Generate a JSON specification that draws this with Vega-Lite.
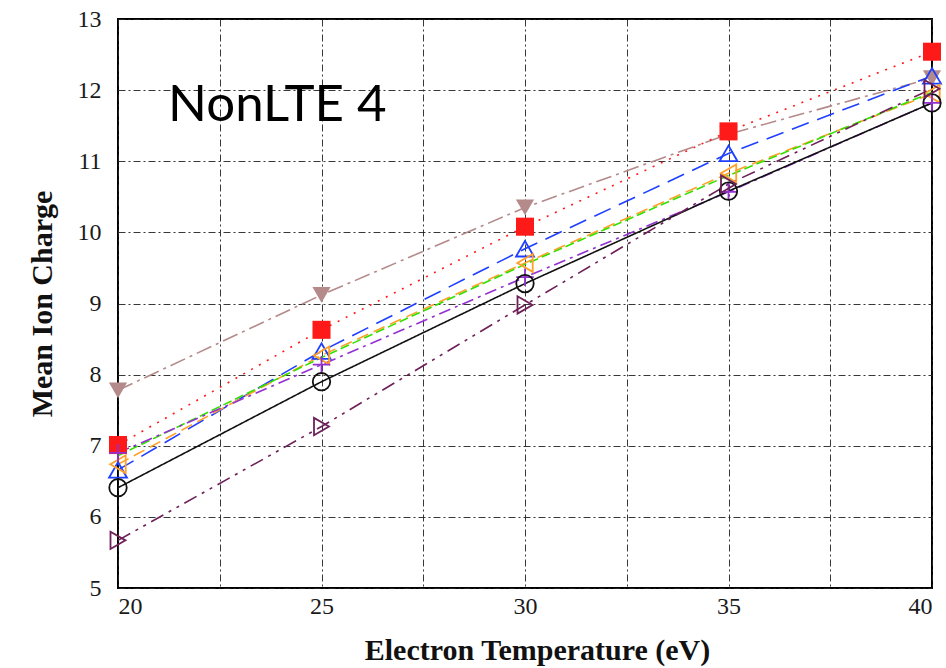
{
  "$schema": "https://vega.github.io/schema/vega-lite/v6.json",
  "width": 814,
  "height": 569,
  "autosize": "none",
  "padding": {"left": 118, "top": 19, "right": 14, "bottom": 80},
  "background": "white",
  "config": {
    "view": {"stroke": "#000000", "strokeWidth": 2},
    "axis": {
      "labelFont": "Liberation Serif",
      "labelFontSize": 24,
      "labelColor": "#1a1a1a",
      "titleFont": "Liberation Serif",
      "titleFontSize": 30,
      "titleFontWeight": "bold",
      "titleColor": "#111111",
      "domain": false,
      "ticks": false,
      "grid": true,
      "gridColor": "#222222",
      "gridWidth": 1,
      "gridDash": [7, 3, 2, 3],
      "gridOpacity": 0.9
    }
  },
  "datasets": {
    "series": [
      {"run": "brown", "te": 20, "z": 7.78}, {"run": "brown", "te": 25, "z": 9.12}, {"run": "brown", "te": 30, "z": 10.35}, {"run": "brown", "te": 35, "z": 11.38}, {"run": "brown", "te": 40, "z": 12.17},
      {"run": "red", "te": 20, "z": 7.01}, {"run": "red", "te": 25, "z": 8.63}, {"run": "red", "te": 30, "z": 10.08}, {"run": "red", "te": 35, "z": 11.42}, {"run": "red", "te": 40, "z": 12.54},
      {"run": "blue", "te": 20, "z": 6.66}, {"run": "blue", "te": 25, "z": 8.33}, {"run": "blue", "te": 30, "z": 9.77}, {"run": "blue", "te": 35, "z": 11.11}, {"run": "blue", "te": 40, "z": 12.2},
      {"run": "orange", "te": 20, "z": 6.74}, {"run": "orange", "te": 25, "z": 8.27}, {"run": "orange", "te": 30, "z": 9.57}, {"run": "orange", "te": 35, "z": 10.83}, {"run": "orange", "te": 40, "z": 11.95},
      {"run": "green", "te": 20, "z": 6.86}, {"run": "green", "te": 25, "z": 8.24}, {"run": "green", "te": 30, "z": 9.55}, {"run": "green", "te": 35, "z": 10.8}, {"run": "green", "te": 40, "z": 11.97},
      {"run": "purple", "te": 20, "z": 6.9}, {"run": "purple", "te": 25, "z": 8.14}, {"run": "purple", "te": 30, "z": 9.37}, {"run": "purple", "te": 35, "z": 10.57}, {"run": "purple", "te": 40, "z": 11.82},
      {"run": "black", "te": 20, "z": 6.41}, {"run": "black", "te": 25, "z": 7.9}, {"run": "black", "te": 30, "z": 9.28}, {"run": "black", "te": 35, "z": 10.58}, {"run": "black", "te": 40, "z": 11.82},
      {"run": "plum", "te": 20, "z": 5.67}, {"run": "plum", "te": 25, "z": 7.27}, {"run": "plum", "te": 30, "z": 8.98}, {"run": "plum", "te": 35, "z": 10.68}, {"run": "plum", "te": 40, "z": 12.02}
    ],
    "label": [{"te": 21.23, "z": 11.56, "text": "NonLTE 4"}]
  },
  "layer": [
    {
      "data": {"name": "series"},
      "mark": {"type": "line", "strokeWidth": 1.6},
      "encoding": {
        "x": {
          "field": "te", "type": "quantitative",
          "scale": {"domain": [20, 40], "nice": false, "zero": false},
          "axis": {
            "title": "Electron Temperature (eV)",
            "values": [20, 22.5, 25, 27.5, 30, 32.5, 35, 37.5, 40],
            "labelExpr": "datum.value % 5 === 0 ? datum.label : ''",
            "labelPadding": 6,
            "titlePadding": 17,
            "titleX": 419
          }
        },
        "y": {
          "field": "z", "type": "quantitative",
          "scale": {"domain": [5, 13], "nice": false, "zero": false},
          "axis": {
            "title": "Mean Ion Charge",
            "values": [5, 6, 7, 8, 9, 10, 11, 12, 13],
            "format": "d",
            "labelPadding": 17,
            "titlePadding": 20
          }
        },
        "color": {
          "field": "run", "type": "nominal", "legend": null,
          "scale": {
            "domain": ["brown", "red", "blue", "orange", "green", "purple", "black", "plum"],
            "range": ["#b48a8a", "#ff1a1a", "#1f3fff", "#ffa028", "#33e000", "#9430d0", "#111111", "#6e2058"]
          }
        },
        "strokeDash": {
          "field": "run", "type": "nominal", "legend": null,
          "scale": {
            "domain": ["brown", "red", "blue", "orange", "green", "purple", "black", "plum"],
            "range": [[16, 5, 3, 5], [2, 7], [18, 9], [12, 6], [9, 4], [12, 5, 3, 5], [1, 0], [14, 6, 3, 6, 3, 6]]
          }
        }
      }
    },
    {
      "data": {"name": "series"},
      "transform": [{"filter": "datum.run === 'brown' || datum.run === 'red'"}],
      "mark": {"type": "point", "filled": true, "opacity": 1},
      "encoding": {
        "x": {"field": "te", "type": "quantitative"},
        "y": {"field": "z", "type": "quantitative"},
        "color": {"field": "run", "type": "nominal", "legend": null},
        "shape": {
          "field": "run", "type": "nominal", "legend": null,
          "scale": {
            "domain": ["brown", "red", "blue", "orange", "green", "purple", "black", "plum"],
            "range": ["triangle-down", "square", "triangle-up", "triangle-left", "circle", "M-1,0H1M0,-1V1", "circle", "triangle-right"]
          }
        },
        "size": {
          "field": "run", "type": "nominal", "legend": null,
          "scale": {
            "domain": ["brown", "red", "blue", "orange", "green", "purple", "black", "plum"],
            "range": [330, 300, 300, 330, 100, 380, 260, 300]
          }
        }
      }
    },
    {
      "data": {"name": "series"},
      "transform": [{"filter": "datum.run !== 'brown' && datum.run !== 'red' && datum.run !== 'green'"}],
      "mark": {"type": "point", "filled": false, "opacity": 1, "strokeWidth": 1.8},
      "encoding": {
        "x": {"field": "te", "type": "quantitative"},
        "y": {"field": "z", "type": "quantitative"},
        "color": {"field": "run", "type": "nominal", "legend": null},
        "shape": {"field": "run", "type": "nominal", "legend": null},
        "size": {"field": "run", "type": "nominal", "legend": null}
      }
    },
    {
      "data": {"name": "label"},
      "mark": {"type": "text", "align": "left", "baseline": "alphabetic", "font": "Lato", "fontSize": 51, "color": "#000000"},
      "encoding": {
        "x": {"field": "te", "type": "quantitative"},
        "y": {"field": "z", "type": "quantitative"},
        "text": {"field": "text"}
      }
    }
  ]
}
